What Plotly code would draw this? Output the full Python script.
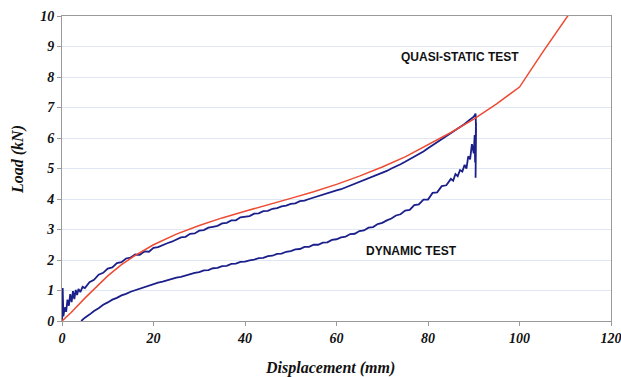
import plotly.graph_objects as go

# Quasi-static test: load (kN) vs displacement (mm)
qs_disp = [0, 2, 5, 8, 10, 13, 16, 20, 25, 30, 35, 40, 45, 50, 55, 60, 65, 70,
           75, 80, 85, 90, 95, 100, 105, 111]
qs_load = [0, 0.28, 0.75, 1.2, 1.48, 1.85, 2.15, 2.5, 2.85, 3.13, 3.38, 3.6, 3.8,
           4.02, 4.24, 4.48, 4.75, 5.05, 5.38, 5.78, 6.18, 6.62, 7.12, 7.67, 8.8, 10.1]

# Dynamic test, loading branch
dyn_load_disp = [0, 0.15, 0.3, 0.6, 0.9, 1.2, 1.5, 1.8, 2.1, 2.4, 2.7, 3.0, 3.3, 3.6,
                 4.0, 4.5, 5, 6, 7, 8, 9, 10, 11, 12, 13, 14, 15, 16, 17, 18, 19,
                 20, 21, 22, 23, 24, 25, 26, 27, 28, 29, 30, 31, 32, 33, 34, 35,
                 36, 37, 38, 39, 40, 41, 42, 43, 44, 45, 46, 47, 48, 49, 50, 51,
                 52, 53, 54, 55, 56, 57, 58, 59, 60, 61, 62, 63, 64, 65, 66, 67,
                 68, 69, 70, 71, 72, 73, 74, 75, 76, 77, 78, 79, 80, 81, 82, 83,
                 84, 85, 86, 87, 88, 89, 90, 90.4]
dyn_load_load = [0, 1.08, 0.15, 0.45, 0.3, 0.7, 0.5, 0.88, 0.62, 0.98, 0.72, 1.02,
                 0.85, 1.05, 0.95, 1.12, 1.08, 1.27, 1.35, 1.52, 1.58, 1.72, 1.76,
                 1.9, 1.93, 2.05, 2.08, 2.18, 2.17, 2.28, 2.27, 2.4, 2.42, 2.49,
                 2.55, 2.6, 2.66, 2.74, 2.76, 2.86, 2.87, 2.96, 2.98, 3.06, 3.09,
                 3.12, 3.2, 3.22, 3.3, 3.3, 3.4, 3.42, 3.44, 3.52, 3.53, 3.6, 3.61,
                 3.68, 3.7, 3.76, 3.78, 3.84, 3.86, 3.93, 3.95, 4.0, 4.05, 4.1,
                 4.14, 4.18, 4.24, 4.28, 4.32, 4.38, 4.42, 4.49, 4.54, 4.6, 4.66,
                 4.72, 4.78, 4.86, 4.92, 5.0, 5.06, 5.14, 5.22, 5.3, 5.38, 5.47,
                 5.56, 5.66, 5.76, 5.86, 5.96, 6.06, 6.15, 6.26, 6.36, 6.46, 6.58,
                 6.7, 6.8]

# Dynamic test, drop at peak and unloading branch
dyn_unload_disp = [90.5, 90.4, 90.5, 90.3, 90.2, 90.0, 89.6, 89.2, 88.8, 88.4, 88,
                   87.5, 87, 86.5, 86, 85.5, 85, 84, 83, 82, 81, 80, 79, 78, 77,
                   76, 75, 74, 73, 72, 71, 70, 69, 68, 67, 66, 65, 64, 63, 62, 61,
                   60, 59, 58, 57, 56, 55, 54, 53, 52, 51, 50, 49, 48, 47, 46, 45,
                   44, 43, 42, 41, 40, 39, 38, 37, 36, 35, 34, 33, 32, 31, 30, 29,
                   28, 27, 26, 25, 24, 23, 22, 21, 20, 19, 18, 17, 16, 15, 14, 13,
                   12, 11, 10, 9, 8, 7, 6, 5, 4.2]
dyn_unload_load = [6.3, 4.7, 6.5, 5.2, 6.1, 5.5, 5.8, 5.3, 5.4, 5.0, 5.12, 4.9,
                   4.95, 4.75, 4.82, 4.6, 4.66, 4.45, 4.42, 4.22, 4.2, 3.98, 3.98,
                   3.82, 3.8, 3.64, 3.62, 3.5, 3.46, 3.36, 3.3, 3.22, 3.18, 3.08,
                   3.06, 2.97, 2.95, 2.86, 2.85, 2.77, 2.74, 2.68, 2.66, 2.58, 2.57,
                   2.5, 2.5, 2.43, 2.43, 2.36, 2.35, 2.29, 2.27, 2.21, 2.2, 2.14,
                   2.13, 2.07, 2.06, 2.01, 1.99, 1.95, 1.94, 1.88, 1.87, 1.81, 1.8,
                   1.74, 1.73, 1.67, 1.66, 1.6, 1.58, 1.53, 1.5, 1.45, 1.42, 1.37,
                   1.34, 1.29, 1.26, 1.21, 1.17, 1.11, 1.07, 1.01, 0.96, 0.89, 0.84,
                   0.76, 0.7, 0.61, 0.53, 0.42, 0.33, 0.21, 0.11, 0]

x_ticks = [0, 20, 40, 60, 80, 100, 120]
y_ticks = list(range(0, 11))

RED = "#ee4b32"
NAVY = "#1b1f8a"
SERIF = "Liberation Serif"
SANS = "Liberation Sans"

fig = go.Figure()
fig.add_trace(go.Scatter(
    x=dyn_load_disp + dyn_unload_disp,
    y=dyn_load_load + dyn_unload_load,
    mode="lines", line=dict(color=NAVY, width=1.8),
    name="Dynamic test", showlegend=False, cliponaxis=True,
))
fig.add_trace(go.Scatter(
    x=qs_disp, y=qs_load, mode="lines",
    line=dict(color=RED, width=1.5),
    name="Quasi-static test", showlegend=False, cliponaxis=True,
))

tick_font = dict(family=SERIF, size=14, color="#111111", weight="bold", style="italic")
axis_common = dict(
    showline=True, linecolor="#9a9a9a", linewidth=1, mirror=True,
    ticks="outside", ticklen=4, tickcolor="#9a9a9a", tickfont=tick_font,
    zeroline=False, ticklabeloverflow="allow", automargin=False,
)

fig.update_xaxes(range=[0, 120], tickvals=x_ticks, showgrid=False, **axis_common)
fig.update_yaxes(range=[0, 10], tickvals=y_ticks, showgrid=True,
                 gridcolor="#dfe7f4", gridwidth=1, **axis_common)

title_font = dict(family=SERIF, size=16, color="#111111", weight="bold", style="italic")
label_font = dict(family=SANS, size=12, color="#111111", weight="bold")

fig.update_layout(
    width=621, height=377,
    margin=dict(l=62, r=10, t=16, b=56, autoexpand=False),
    paper_bgcolor="white", plot_bgcolor="white",
    annotations=[
        dict(text="Displacement (mm)", xref="paper", yref="paper",
             x=0.488, y=-0.155, xanchor="center", yanchor="middle",
             showarrow=False, font=title_font),
        dict(text="Load (kN)", xref="paper", yref="paper",
             x=-0.079, y=0.53, xanchor="center", yanchor="middle",
             textangle=-90, showarrow=False, font=title_font),
        dict(text="QUASI-STATIC TEST", x=86.9, y=8.64, xref="x", yref="y",
             showarrow=False, font=label_font),
        dict(text="DYNAMIC TEST", x=76.3, y=2.29, xref="x", yref="y",
             showarrow=False, font=label_font),
    ],
)

fig.write_html("out.html")
